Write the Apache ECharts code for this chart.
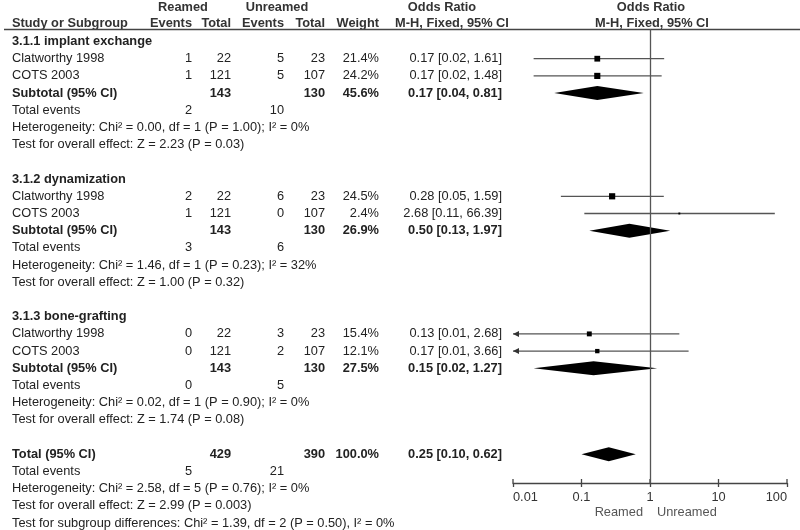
<!DOCTYPE html>
<html>
<head>
<meta charset="utf-8">
<script src="https://cdn.jsdelivr.net/npm/echarts@6/dist/echarts.min.js"></script>
<style>
html, body { margin: 0; background: #fff; }
#chart { width: 800px; height: 530px; }
</style>
</head>
<body>
<div id="chart"></div>
<script>
// row labels of the table, one per line (blank lines are spacers)
const rowLabels = [
    '3.1.1 implant exchange', 'Clatworthy 1998', 'COTS 2003', 'Subtotal (95% CI)', 'Total events',
    'Heterogeneity: Chi² = 0.00, df = 1 (P = 1.00); I² = 0%', 'Test for overall effect: Z = 2.23 (P = 0.03)', '',
    '3.1.2 dynamization', 'Clatworthy 1998', 'COTS 2003', 'Subtotal (95% CI)', 'Total events',
    'Heterogeneity: Chi² = 1.46, df = 1 (P = 0.23); I² = 32%', 'Test for overall effect: Z = 1.00 (P = 0.32)', '',
    '3.1.3 bone-grafting', 'Clatworthy 1998', 'COTS 2003', 'Subtotal (95% CI)', 'Total events',
    'Heterogeneity: Chi² = 0.02, df = 1 (P = 0.90); I² = 0%', 'Test for overall effect: Z = 1.74 (P = 0.08)', '',
    'Total (95% CI)', 'Total events',
    'Heterogeneity: Chi² = 2.58, df = 5 (P = 0.76); I² = 0%',
    'Test for overall effect: Z = 2.99 (P = 0.003)',
    'Test for subgroup differences: Chi² = 1.39, df = 2 (P = 0.50), I² = 0%'
];
const groupRows = [0, 8, 16];

// individual studies
const studyRows = [1, 2, 9, 10, 17, 18];
const studyReamedEvents = [1, 1, 2, 1, 0, 0];
const studyReamedTotal = [22, 121, 22, 121, 22, 121];
const studyUnreamedEvents = [5, 5, 6, 0, 3, 2];
const studyUnreamedTotal = [23, 107, 23, 107, 23, 107];
const studyWeight = [21.4, 24.2, 24.5, 2.4, 15.4, 12.1];
const studyOR = [0.17, 0.17, 0.28, 2.68, 0.13, 0.17];
const studyLow = [0.02, 0.02, 0.05, 0.11, 0.01, 0.01];
const studyHigh = [1.61, 1.48, 1.59, 66.39, 2.68, 3.66];

// subtotals and overall total
const pooledRows = [3, 11, 19, 24];
const pooledReamedTotal = [143, 143, 143, 429];
const pooledUnreamedTotal = [130, 130, 130, 390];
const pooledWeight = [45.6, 26.9, 27.5, 100.0];
const pooledOR = [0.17, 0.50, 0.15, 0.25];
const pooledLow = [0.04, 0.13, 0.02, 0.10];
const pooledHigh = [0.81, 1.97, 1.27, 0.62];

// total events lines
const eventRows = [4, 12, 20, 25];
const eventsReamed = [2, 3, 0, 5];
const eventsUnreamed = [10, 6, 5, 21];

const tickValues = [0.01, 0.1, 1, 10, 100];
const tickLabels = ['0.01', '0.1', '1', '10', '100'];
const xMin = 0.01, xMax = 100;

// layout
const ROW0_Y = 41.5, ROW_H = 17.2, GRID_TOP = 29, GRID_BOTTOM_Y = 483;
const FONT = "'Liberation Sans', Arial, sans-serif";
const FS = '12.8px ';
const TXT = '#222';
const col = { label: 12, ev1: 192, tot1: 231, ev2: 284, tot2: 325, weight: 379, or: 502 };
const yMin = (GRID_TOP - ROW0_Y) / ROW_H, yMax = (GRID_BOTTOM_Y - ROW0_Y) / ROW_H;

function fmtOR(o, l, h) {
    return o.toFixed(2) + ' [' + l.toFixed(2) + ', ' + h.toFixed(2) + ']';
}

// cells of each table line
function cellsFor(r) {
    let c = {};
    let k = studyRows.indexOf(r);
    if (k >= 0) {
        c = { ev1: studyReamedEvents[k], tot1: studyReamedTotal[k], ev2: studyUnreamedEvents[k],
              tot2: studyUnreamedTotal[k], weight: studyWeight[k].toFixed(1) + '%',
              or: fmtOR(studyOR[k], studyLow[k], studyHigh[k]) };
    }
    k = pooledRows.indexOf(r);
    if (k >= 0) {
        c = { tot1: pooledReamedTotal[k], tot2: pooledUnreamedTotal[k], weight: pooledWeight[k].toFixed(1) + '%',
              or: fmtOR(pooledOR[k], pooledLow[k], pooledHigh[k]) };
    }
    k = eventRows.indexOf(r);
    if (k >= 0) {
        c = { ev1: eventsReamed[k], ev2: eventsUnreamed[k] };
    }
    return c;
}

const chart = echarts.init(document.getElementById('chart'));

function textEl(x, y, s, align, bold, color) {
    return {
        type: 'text', x: x, y: y,
        style: { text: String(s), x: 0, y: 0, align: align || 'left', verticalAlign: 'middle',
                 font: (bold ? 'bold ' : '') + FS + FONT, fill: color || TXT }
    };
}

const tableData = rowLabels.map((t, i) => [1, i]);
const studyData = studyOR.map((o, k) => [o, studyLow[k], studyHigh[k], studyWeight[k], studyRows[k]]);
const pooledData = pooledOR.map((o, k) => [o, pooledLow[k], pooledHigh[k], pooledRows[k]]);
const tickData = tickValues.map(v => [v, yMax]);

const HEAD = '#333';
const headerY1 = 7, headerY2 = 23;

const option = {
    animation: false,
    backgroundColor: '#fff',
    grid: { left: 513, right: 13, top: GRID_TOP, bottom: 530 - GRID_BOTTOM_Y },
    xAxis: {
        type: 'log', logBase: 10, min: xMin, max: xMax,
        axisLine: { onZero: false, lineStyle: { color: '#444', width: 1.3 } },
        axisTick: { length: 4, lineStyle: { color: '#444', width: 1.3 } },
        splitLine: { show: false },
        axisLabel: {
            color: '#333', fontFamily: FONT, fontSize: 12.8, margin: 8,
            alignMinLabel: 'left', alignMaxLabel: 'right',
            formatter: v => tickLabels[Math.round(Math.log10(v) - Math.log10(xMin))]
        }
    },
    yAxis: {
        type: 'value', inverse: true, show: false, min: yMin, max: yMax
    },
    graphic: [
        textEl(183, headerY1, 'Reamed', 'center', true, HEAD),
        textEl(277, headerY1, 'Unreamed', 'center', true, HEAD),
        textEl(442, headerY1, 'Odds Ratio', 'center', true, HEAD),
        textEl(651, headerY1, 'Odds Ratio', 'center', true, HEAD),
        textEl(col.label, headerY2, 'Study or Subgroup', 'left', true, HEAD),
        textEl(col.ev1, headerY2, 'Events', 'right', true, HEAD),
        textEl(col.tot1, headerY2, 'Total', 'right', true, HEAD),
        textEl(col.ev2, headerY2, 'Events', 'right', true, HEAD),
        textEl(col.tot2, headerY2, 'Total', 'right', true, HEAD),
        textEl(col.weight, headerY2, 'Weight', 'right', true, HEAD),
        textEl(452, headerY2, 'M-H, Fixed, 95% CI', 'center', true, HEAD),
        textEl(652, headerY2, 'M-H, Fixed, 95% CI', 'center', true, HEAD),
        { type: 'line', shape: { x1: 4, y1: 29.5, x2: 800, y2: 29.5 }, style: { stroke: '#444', lineWidth: 1.3 } },
        textEl(643, 512, 'Reamed', 'right', false, '#555'),
        textEl(657, 512, 'Unreamed', 'left', false, '#555')
    ],
    series: [{
        // table text
        type: 'custom', clip: false, silent: true,
        data: tableData,
        encode: { x: 0, y: 1 },
        renderItem: (params, api) => {
            const r = api.value(1);
            const y = api.coord([1, r])[1];
            const isBold = groupRows.indexOf(r) >= 0 || pooledRows.indexOf(r) >= 0;
            const c = cellsFor(r);
            const kids = [textEl(col.label, y, rowLabels[r], 'left', isBold)];
            ['ev1', 'tot1', 'ev2', 'tot2', 'weight', 'or'].forEach(key => {
                if (c[key] !== undefined) kids.push(textEl(col[key], y, c[key], 'right', isBold));
            });
            return { type: 'group', children: kids };
        }
    }, {
        // study CIs and weight squares
        type: 'custom', clip: false, silent: true,
        data: studyData,
        encode: { x: [0, 1, 2], y: 4 },
        renderItem: (params, api) => {
            const o = api.value(0), lo = api.value(1), hi = api.value(2), w = api.value(3), r = api.value(4);
            const p = api.coord([o, r]);
            const a = api.coord([Math.max(lo, xMin), r]);
            const b = api.coord([Math.min(hi, xMax), r]);
            const s = 1.25 * Math.sqrt(w);
            const line = { stroke: '#555', lineWidth: 1.3 };
            const kids = [
                { type: 'line', shape: { x1: a[0], y1: a[1], x2: b[0], y2: b[1] }, style: line },
                { type: 'rect', shape: { x: p[0] - s / 2, y: p[1] - s / 2, width: s, height: s }, style: { fill: '#000' } }
            ];
            if (lo <= xMin) {
                kids.push({ type: 'polygon', shape: { points: [[a[0], a[1]], [a[0] + 6, a[1] - 3], [a[0] + 6, a[1] + 3]] }, style: { fill: '#333' } });
            }
            if (hi >= xMax) {
                kids.push({ type: 'polygon', shape: { points: [[b[0], b[1]], [b[0] - 6, b[1] - 3], [b[0] - 6, b[1] + 3]] }, style: { fill: '#333' } });
            }
            return { type: 'group', children: kids };
        },
        markLine: {
            silent: true, symbol: 'none', label: { show: false },
            lineStyle: { color: '#555', width: 1.3, type: 'solid' },
            data: [{ xAxis: 1 }]
        }
    }, {
        // pooled diamonds
        type: 'custom', clip: false, silent: true,
        data: pooledData,
        encode: { x: [0, 1, 2], y: 3 },
        renderItem: (params, api) => {
            const r = api.value(3);
            const p = api.coord([api.value(0), r]);
            const a = api.coord([api.value(1), r]);
            const b = api.coord([api.value(2), r]);
            return {
                type: 'polygon',
                shape: { points: [[a[0], a[1]], [p[0], p[1] - 7], [b[0], b[1]], [p[0], p[1] + 7]] },
                style: { fill: '#000' }
            };
        }
    }, {
        // upper half of the axis ticks (ticks cross the axis line)
        type: 'custom', clip: false, silent: true,
        data: tickData,
        encode: { x: 0, y: 1 },
        renderItem: (params, api) => {
            const p = api.coord([api.value(0), api.value(1)]);
            return {
                type: 'line',
                shape: { x1: p[0], y1: p[1], x2: p[0], y2: p[1] - 4 },
                style: { stroke: '#444', lineWidth: 1.3 }
            };
        }
    }]
};

chart.setOption(option);
</script>
</body>
</html>
